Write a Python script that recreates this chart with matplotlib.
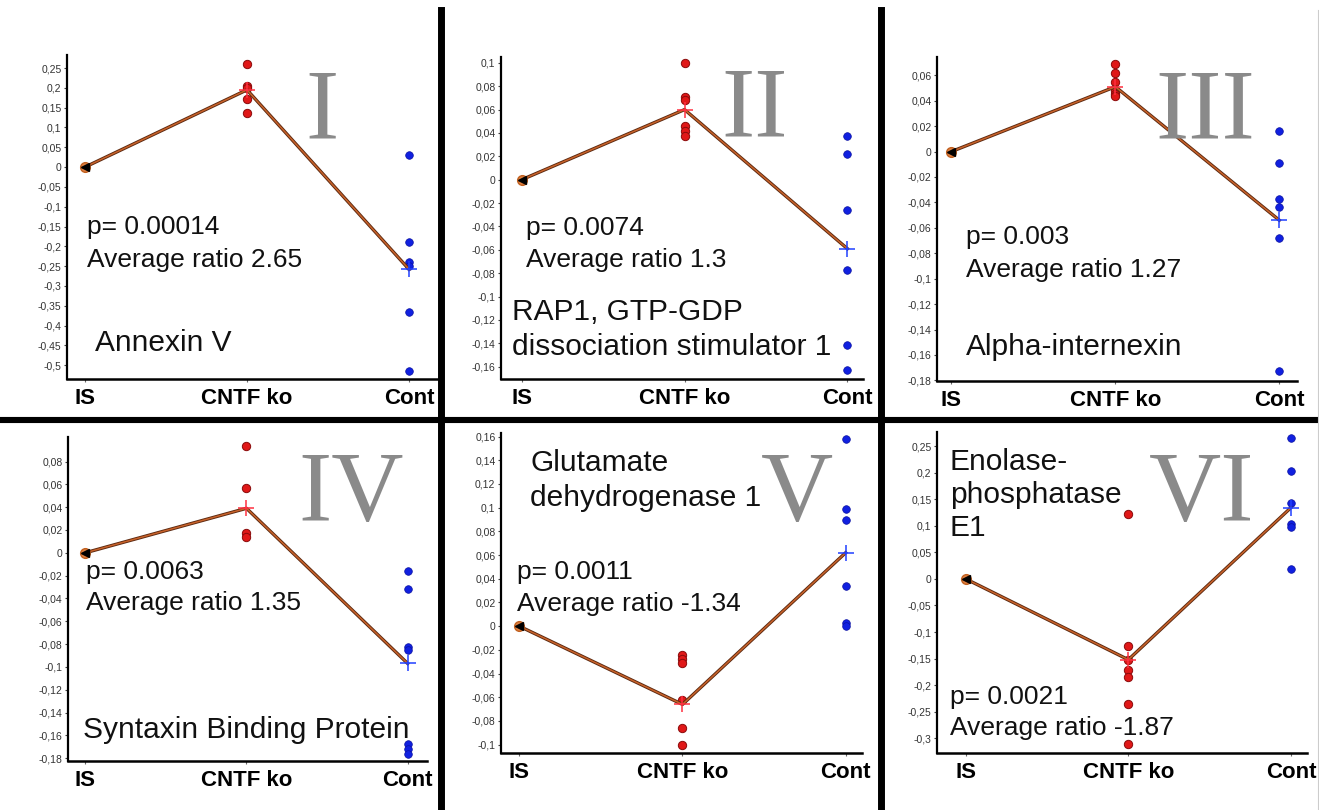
import numpy as np
import matplotlib
matplotlib.use("Agg")
import matplotlib.pyplot as plt
from matplotlib.lines import Line2D
import matplotlib.patheffects as pe

W, H = 1319, 810
categories = ["IS", "CNTF ko", "Cont"]

# ---- data ----
ko_I = [0.26, 0.205, 0.20, 0.172, 0.137]
cont_I = [0.03, -0.19, -0.24, -0.25, -0.365, -0.515]
mean_I = [0.0, 0.195, -0.258]

ko_II = [0.100, 0.071, 0.068, 0.046, 0.042, 0.037]
cont_II = [0.037, 0.022, -0.026, -0.077, -0.141, -0.163]
mean_II = [0.0, 0.060, -0.059]

ko_III = [0.069, 0.062, 0.055, 0.048, 0.045, 0.044]
cont_III = [0.016, -0.009, -0.037, -0.044, -0.068, -0.173]
mean_III = [0.0, 0.051, -0.054]

ko_IV = [0.094, 0.057, 0.017, 0.014]
cont_IV = [-0.016, -0.032, -0.083, -0.085, -0.168, -0.172, -0.176]
mean_IV = [0.0, 0.039, -0.097]

ko_V = [-0.024, -0.028, -0.031, -0.062, -0.086, -0.100]
cont_V = [0.158, 0.099, 0.090, 0.034, 0.003, 0.0]
mean_V = [0.0, -0.066, 0.062]

ko_VI = [0.122, -0.126, -0.153, -0.172, -0.185, -0.236, -0.311]
cont_VI = [0.266, 0.203, 0.142, 0.104, 0.097, 0.019]
mean_VI = [0.0, -0.152, 0.134]

ticks_I = [0.25, 0.2, 0.15, 0.1, 0.05, 0, -0.05, -0.1, -0.15, -0.2, -0.25, -0.3, -0.35, -0.4, -0.45, -0.5]
ticks_II = [0.1, 0.08, 0.06, 0.04, 0.02, 0, -0.02, -0.04, -0.06, -0.08, -0.1, -0.12, -0.14, -0.16]
ticks_III = [0.06, 0.04, 0.02, 0, -0.02, -0.04, -0.06, -0.08, -0.1, -0.12, -0.14, -0.16, -0.18]
ticks_IV = [0.08, 0.06, 0.04, 0.02, 0, -0.02, -0.04, -0.06, -0.08, -0.1, -0.12, -0.14, -0.16, -0.18]
ticks_V = [0.16, 0.14, 0.12, 0.1, 0.08, 0.06, 0.04, 0.02, 0, -0.02, -0.04, -0.06, -0.08, -0.1]
ticks_VI = [0.25, 0.2, 0.15, 0.1, 0.05, 0, -0.05, -0.1, -0.15, -0.2, -0.25, -0.3]

p_texts = ["p= 0.00014", "p= 0.0074", "p= 0.003", "p= 0.0063", "p= 0.0011", "p= 0.0021"]
ratio_texts = ["Average ratio 2.65", "Average ratio 1.3", "Average ratio 1.27",
               "Average ratio 1.35", "Average ratio -1.34", "Average ratio -1.87"]
names = [["Annexin V"], ["RAP1, GTP-GDP", "dissociation stimulator 1"], ["Alpha-internexin"],
         ["Syntaxin Binding Protein"], ["Glutamate", "dehydrogenase 1"],
         ["Enolase-", "phosphatase", "E1"]]
numerals = ["I", "II", "III", "IV", "V", "VI"]

panels = [
    dict(ko=ko_I, cont=cont_I, mean=mean_I, ticks=ticks_I),
    dict(ko=ko_II, cont=cont_II, mean=mean_II, ticks=ticks_II),
    dict(ko=ko_III, cont=cont_III, mean=mean_III, ticks=ticks_III),
    dict(ko=ko_IV, cont=cont_IV, mean=mean_IV, ticks=ticks_IV),
    dict(ko=ko_V, cont=cont_V, mean=mean_V, ticks=ticks_V),
    dict(ko=ko_VI, cont=cont_VI, mean=mean_VI, ticks=ticks_VI),
]

# ---- layout (pixels): spine box, limits, text positions ----
layout = [
    dict(box=(67, 55, 437, 379), xlim=(-0.111, 2.173), ylim=(-0.535, 0.283),
         p=(87, 227), r=(87, 260), name=[(95, 343)], num=(322, 137)),
    dict(box=(501, 57, 863, 379), xlim=(-0.127, 2.096), ylim=(-0.1705, 0.105),
         p=(526, 228), r=(526, 260), name=[(512, 312), (512, 347)], num=(755, 135)),
    dict(box=(937, 57, 1297, 381), xlim=(-0.088, 2.108), ylim=(-0.1805, 0.0744),
         p=(966, 237), r=(966, 270), name=[(966, 347)], num=(1205, 137)),
    dict(box=(68, 437, 427, 761), xlim=(-0.107, 2.12), ylim=(-0.1825, 0.1015),
         p=(86, 572), r=(86, 603), name=[(83, 730)], num=(351, 520)),
    dict(box=(501, 433, 862, 753), xlim=(-0.112, 2.10), ylim=(-0.107, 0.163),
         p=(517, 572), r=(517, 604), name=[(530, 463), (530, 498)], num=(797, 520)),
    dict(box=(937, 432, 1307, 753), xlim=(-0.177, 2.099), ylim=(-0.3276, 0.2764),
         p=(950, 697), r=(950, 728), name=[(950, 462), (950, 495), (950, 528)], num=(1202, 520)),
]

fig = plt.figure(figsize=(W / 100, H / 100), dpi=100)
fig.patch.set_facecolor("white")

def fx(x):
    return x / W

def fy(y):
    return 1 - y / H

def fmt(v):
    if v == 0:
        return "0"
    return ("%g" % v).replace(".", ",")

sans = ["Liberation Sans", "DejaVu Sans"]
serif = ["Liberation Serif", "DejaVu Serif"]

for i, (pd_, lay) in enumerate(zip(panels, layout)):
    x0, y0, x1, y1 = lay["box"]
    ax = fig.add_axes([fx(x0), fy(y1), (x1 - x0) / W, (y1 - y0) / H])
    ax.set_facecolor("none")
    ax.set_xlim(*lay["xlim"])
    ax.set_ylim(*lay["ylim"])
    for s in ["top", "right"]:
        ax.spines[s].set_visible(False)
    ax.spines["left"].set_linewidth(1.6)
    ax.spines["bottom"].set_linewidth(1.8)
    ax.set_yticks(pd_["ticks"])
    ax.set_yticklabels([fmt(v) for v in pd_["ticks"]], fontsize=7.5,
                       color="#333333", family=sans)
    ax.tick_params(axis="y", length=2.5, width=0.8, pad=1.5, color="#444444")
    ax.set_xticks(range(len(categories)))
    ax.set_xticklabels(categories, fontsize=16, fontweight="bold", family=sans)
    ax.tick_params(axis="x", length=2.5, width=0.8, pad=4, color="#666666")

    xs_ko = np.full(len(pd_["ko"]), 1)
    xs_cont = np.full(len(pd_["cont"]), 2)
    ax.scatter(xs_ko, pd_["ko"], s=36, color="#e01818", edgecolor="#8a0a0a",
               linewidth=0.7, zorder=3, clip_on=False)
    ax.scatter(xs_cont, pd_["cont"], s=30, color="#1020e0", edgecolor="#0a10a0",
               linewidth=0.5, zorder=3, clip_on=False)
    # mean line
    ax.plot(range(3), pd_["mean"], color="#c8622a", lw=1.1, zorder=4,
            path_effects=[pe.Stroke(linewidth=2.4, foreground="#5a2810"), pe.Normal()])
    ax.plot([0], [pd_["mean"][0]], marker="o", ms=7, color="#e08040",
            mec="#c06020", zorder=5)
    ax.plot([0], [pd_["mean"][0]], marker="<", ms=6, color="black", zorder=6)
    ax.plot([1], [pd_["mean"][1]], marker="+", ms=12, mew=1.1, color="#ff3040", zorder=6)
    ax.plot([2], [pd_["mean"][2]], marker="+", ms=12, mew=1.1, color="#2040ff", zorder=6)

    # texts
    fig.text(fx(lay["p"][0]), fy(lay["p"][1]), p_texts[i], fontsize=19,
             family=sans, va="center", ha="left", color="#111111")
    fig.text(fx(lay["r"][0]), fy(lay["r"][1]), ratio_texts[i], fontsize=19,
             family=sans, va="center", ha="left", color="#111111")
    for line, (nx, ny) in zip(names[i], lay["name"]):
        fig.text(fx(nx), fy(ny), line, fontsize=21.5, family=sans,
                 va="center", ha="left", color="#111111")
    fig.text(fx(lay["num"][0]), fy(lay["num"][1]), numerals[i], fontsize=72,
             family=serif, va="baseline", ha="center", color="#8a8a8a")

# divider lines
fig.add_artist(Line2D([fx(441), fx(441)], [fy(10), fy(810)], color="black", lw=5.0))
fig.add_artist(Line2D([fx(880.5), fx(880.5)], [fy(10), fy(810)], color="black", lw=5.0))
fig.add_artist(Line2D([fx(0), fx(1319)], [fy(420), fy(420)], color="black", lw=4.4))
fig.add_artist(Line2D([fx(1317.5), fx(1317.5)], [fy(10), fy(810)], color="#cccccc", lw=0.8))

fig.savefig("out.png", dpi=100)
